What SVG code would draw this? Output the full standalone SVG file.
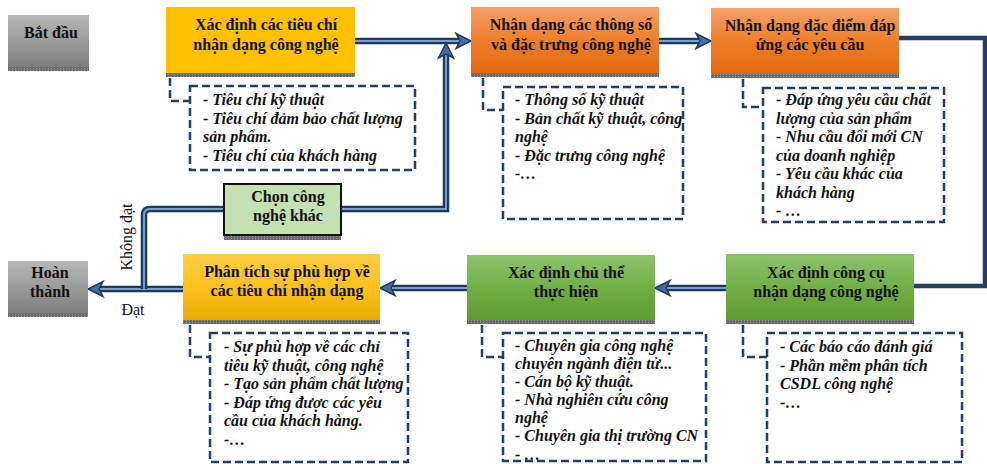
<svg xmlns="http://www.w3.org/2000/svg" width="987" height="464" viewBox="0 0 987 464">
<defs>
<linearGradient id="gGray" x1="0" y1="0" x2="0" y2="1"><stop offset="0" stop-color="#B8B8B8"/><stop offset="1" stop-color="#7E7E7E"/></linearGradient>
<linearGradient id="gOrange" x1="0" y1="0" x2="0" y2="1"><stop offset="0" stop-color="#F5A06A"/><stop offset="0.5" stop-color="#F07F2A"/><stop offset="1" stop-color="#E2690E"/></linearGradient>
<linearGradient id="gGreen" x1="0" y1="0" x2="0" y2="1"><stop offset="0" stop-color="#8CC36C"/><stop offset="0.5" stop-color="#72B047"/><stop offset="1" stop-color="#5E9C2F"/></linearGradient>
<linearGradient id="gYellow" x1="0" y1="0" x2="0" y2="1"><stop offset="0" stop-color="#FFCC45"/><stop offset="0.5" stop-color="#FFC21E"/><stop offset="1" stop-color="#E8AC00"/></linearGradient>
<pattern id="dots" width="3" height="2" patternUnits="userSpaceOnUse"><rect width="3" height="2" fill="#6A6A6A"/><rect width="1" height="1" fill="#9A9A9A"/></pattern>
<path id="ah" d="M0,0 L-15,-7.5 L-11,0 L-15,7.5 Z"/>
<style>
.hd{font-family:"Liberation Serif","Times New Roman",serif;font-weight:bold;font-size:16px;fill:#111;text-anchor:middle}
.li{font-family:"Liberation Serif","Times New Roman",serif;font-weight:bold;font-style:italic;font-size:16px;fill:#111}
.lb{font-family:"Liberation Serif","Times New Roman",serif;font-size:16px;fill:#111}
.strip{fill:url(#dots)}
.dash{fill:#fff;stroke:#243F60;stroke-width:2.5;stroke-dasharray:8 4}
.brk{fill:none;stroke:#243F60;stroke-width:2.5;stroke-dasharray:8 4}
.out{fill:none;stroke:#1F3A5F;stroke-width:6.5}
.inn{fill:none;stroke:#7F9CC6;stroke-width:2}
.head{fill:#4A6E9C;stroke:#1F3A5F;stroke-width:1.5;stroke-linejoin:miter}
.solid{fill:none;stroke:#243F60;stroke-width:4.5}
</style>
</defs>
<rect width="987" height="464" fill="#fff"/>

<g id="connectors">
<path class="out" d="M355,41 H460"/><path class="inn" d="M355,41 H460"/>
<use href="#ah" class="head" transform="translate(471,41)"/>
<path class="out" d="M659,41 H700"/><path class="inn" d="M659,41 H700"/>
<use href="#ah" class="head" transform="translate(711,41)"/>
<path class="solid" d="M899,38 H985 V286 H914"/>
<path class="out" d="M726,288 H666"/><path class="inn" d="M726,288 H666"/>
<use href="#ah" class="head" transform="translate(655,288) rotate(180)"/>
<path class="out" d="M467,288 H391"/><path class="inn" d="M467,288 H391"/>
<use href="#ah" class="head" transform="translate(380,288) rotate(180)"/>
<path class="out" d="M183,289 H99"/><path class="inn" d="M183,289 H99"/>
<use href="#ah" class="head" transform="translate(88,289) rotate(180)"/>
<path class="out" d="M144,289 V215 Q144,209 150,209 H224"/><path class="inn" d="M144,289 V215 Q144,209 150,209 H224"/>
<path class="out" d="M341,209 H446 V54"/><path class="inn" d="M341,209 H446 V54"/>
<use href="#ah" class="head" transform="translate(446,43) rotate(-90)"/>
<text class="lb" text-anchor="middle" transform="translate(132,237) rotate(-90)">Không đạt</text>
<text class="lb" x="133" y="315" text-anchor="middle">Đạt</text>
</g>

<g id="start">
<rect x="8" y="15" width="81" height="52" fill="url(#gGray)"/><rect class="strip" x="8" y="67" width="81" height="4"/>
<text class="hd" x="51" y="38">Bắt đầu</text>
</g>

<g id="n1">
<rect x="166" y="7" width="189" height="66" fill="#FFC000"/><rect class="strip" x="166" y="73" width="189" height="4"/>
<text class="hd" x="266" y="30">Xác định các tiêu chí</text>
<text class="hd" x="266" y="50">nhận dạng công nghệ</text>
<path class="brk" d="M170,78 V101 H190"/>
<rect class="dash" x="190" y="86" width="225" height="84"/>
<text class="li" x="203" y="105">- Tiêu chí kỹ thuật</text>
<text class="li" x="203" y="123.5">- Tiêu chí đảm bảo chất lượng</text>
<text class="li" x="203" y="142">sản phẩm.</text>
<text class="li" x="203" y="160.5">- Tiêu chí của khách hàng</text>
</g>

<g id="n2">
<rect x="471" y="7" width="188" height="66" fill="url(#gOrange)"/><rect class="strip" x="471" y="73" width="188" height="4"/>
<text class="hd" x="571" y="30">Nhận dạng các thông số</text>
<text class="hd" x="571" y="50">và đặc trưng công nghệ</text>
<path class="brk" d="M483,78 V110 H503"/>
<rect class="dash" x="503" y="87" width="180" height="132"/>
<text class="li" x="515" y="105">- Thông số kỹ thuật</text>
<text class="li" x="515" y="123.5">- Bản chất kỹ thuật, công</text>
<text class="li" x="515" y="142">nghệ</text>
<text class="li" x="515" y="160.5">- Đặc trưng công nghệ</text>
<text class="li" x="515" y="179">-…</text>
</g>

<g id="n3">
<rect x="711" y="8" width="188" height="66" fill="url(#gOrange)"/><rect class="strip" x="711" y="74" width="188" height="4"/>
<text class="hd" x="810" y="31">Nhận dạng đặc điểm đáp</text>
<text class="hd" x="810" y="50">ứng các yêu cầu</text>
<path class="brk" d="M743,79 V107 H763"/>
<rect class="dash" x="763" y="88" width="181" height="134"/>
<text class="li" x="776" y="105">- Đáp ứng yêu cầu chất</text>
<text class="li" x="776" y="123.5">lượng của sản phẩm</text>
<text class="li" x="776" y="142">- Nhu cầu đổi mới CN</text>
<text class="li" x="776" y="160.5">của doanh nghiệp</text>
<text class="li" x="776" y="179">- Yêu cầu khác của</text>
<text class="li" x="776" y="197.5">khách hàng</text>
<text class="li" x="776" y="216">- …</text>
</g>

<g id="n4">
<rect x="726" y="254" width="188" height="66" fill="url(#gGreen)"/><rect class="strip" x="726" y="320" width="188" height="4"/>
<text class="hd" x="826" y="278">Xác định công cụ</text>
<text class="hd" x="826" y="297">nhận dạng công nghệ</text>
<path class="brk" d="M743,325 V357 H767"/>
<rect class="dash" x="767" y="333" width="195" height="129"/>
<text class="li" x="780" y="352">- Các báo cáo đánh giá</text>
<text class="li" x="780" y="370.5">- Phần mềm phân tích</text>
<text class="li" x="780" y="389">CSDL công nghệ</text>
<text class="li" x="780" y="407.5">-…</text>
</g>

<g id="n5">
<rect x="467" y="255" width="188" height="65" fill="url(#gGreen)"/><rect class="strip" x="467" y="320" width="188" height="4"/>
<text class="hd" x="566" y="278">Xác định chủ thể</text>
<text class="hd" x="566" y="297">thực hiện</text>
<path class="brk" d="M482,325 V357 H503"/>
<rect class="dash" x="503" y="333" width="203" height="128"/>
<text class="li" x="515" y="351">- Chuyên gia công nghệ</text>
<text class="li" x="515" y="369">chuyên ngành điện tử...</text>
<text class="li" x="515" y="387">- Cán bộ kỹ thuật.</text>
<text class="li" x="515" y="405">- Nhà nghiên cứu công</text>
<text class="li" x="515" y="423">nghệ</text>
<text class="li" x="515" y="441">- Chuyên gia thị trường CN</text>
<text class="li" x="515" y="460" font-size="13">- …</text>
</g>

<g id="n6">
<rect x="183" y="254" width="197" height="66" fill="url(#gYellow)"/><rect class="strip" x="183" y="320" width="197" height="4"/>
<text class="hd" x="287" y="277">Phân tích sự phù hợp về</text>
<text class="hd" x="287" y="296">các tiêu chí nhận dạng</text>
<path class="brk" d="M190,325 V357 H210"/>
<rect class="dash" x="210" y="333" width="198" height="129"/>
<text class="li" x="224" y="352">- Sự phù hợp về các chỉ</text>
<text class="li" x="224" y="370.5">tiêu kỹ thuật, công nghệ</text>
<text class="li" x="224" y="389">- Tạo sản phẩm chất lượng</text>
<text class="li" x="224" y="407.5">- Đáp ứng được các yêu</text>
<text class="li" x="224" y="426">cầu của khách hàng.</text>
<text class="li" x="224" y="444.5">-…</text>
</g>

<g id="end">
<rect x="8" y="261" width="80" height="52" fill="url(#gGray)"/><rect class="strip" x="8" y="313" width="80" height="4"/>
<text class="hd" x="50" y="278">Hoàn</text>
<text class="hd" x="50" y="297">thành</text>
</g>

<g id="alt">
<rect x="224" y="184" width="117" height="51" fill="#C5E0B3" stroke="#111" stroke-width="2"/><rect class="strip" x="224" y="236" width="117" height="4"/>
<text class="hd" x="288" y="202">Chọn công</text>
<text class="hd" x="288" y="221">nghệ khác</text>
</g>
</svg>
